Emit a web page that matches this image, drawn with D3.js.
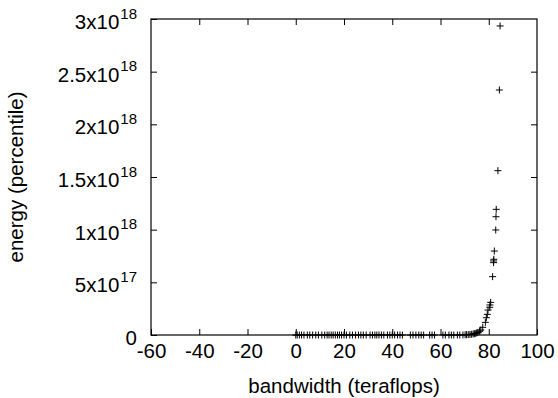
<!DOCTYPE html>
<html>
<head>
<meta charset="utf-8">
<script src="https://cdn.jsdelivr.net/npm/d3@7"></script>
<style>
  body { margin: 0; background: #fff; }
  svg { display: block; }
  svg text { font-family: "Liberation Sans", Arial, Helvetica, sans-serif; }
</style>
</head>
<body>
<script>
// bandwidth (teraflops) / energy (percentile) pairs
const bandwidth = [
  0, 0.6, 1.5, 2.4, 3.4, 4.8, 5.8, 7, 8.3, 9.4, 10.8, 12, 13, 13.8, 14.7, 15.5,
  16.4, 17.3, 18.1, 19, 20, 21, 22.4, 23.5, 24.8, 26, 27, 28, 29.2, 30.8, 31.8,
  32.8, 33.6, 34.5, 35.5, 36.5, 38, 39, 40, 41, 42.2, 43.2, 44.2, 47.5, 48.6,
  49.8, 51, 52, 53, 55.5, 56.5, 57.5, 61, 62, 63.5, 64.5, 65.5, 67, 68, 69.3,
  70.2, 70.8, 71.5, 72.2, 72.8, 73.5, 74, 74.4, 75, 75.5, 76.2, 76.7, 77.5,
  78.6, 79, 79.4, 79.7, 80.4, 80.5, 80.8, 81.6, 82, 82, 82.1, 82.3, 82.9, 83,
  83.1, 83.8, 84.4, 84.7
]
const energy = [
  0, 0, 0, 0, 0, 0, 0, 0, 0, 0, 0, 0, 0, 0, 0, 0,
  0, 0, 0, 0, 0, 0, 0, 0, 0, 0, 0, 0, 0, 0, 0,
  0, 0, 0, 0, 0, 0, 0, 0, 0, 0, 0, 0, 0, 0,
  0, 0, 0, 0, 0, 0, 0, 0, 0, 0, 0, 0, 0, 0, 1e15,
  2e15, 3e15, 4e15, 5e15, 7e15, 1e16, 1.2e16, 1.5e16, 2e16, 2.5e16, 3.5e16, 4.7e16, 7.3e16,
  1.2e17, 1.64e17, 1.96e17, 2.37e17, 2.63e17, 2.85e17, 3.1e17, 5.54e17, 6.87e17, 7.03e17,
  7.19e17, 7.97e17, 9.97e17, 1.123e18,
  1.193e18, 1.56e18, 2.326e18, 2.934e18
]
const xTicks = [-60, -40, -20, 0, 20, 40, 60, 80, 100]
const yTicks = [0, 5e17, 1e18, 1.5e18, 2e18, 2.5e18, 3e18]
const yTickLabels = [
  { base: '0', exp: '' },
  { base: '5x10', exp: '17' },
  { base: '1x10', exp: '18' },
  { base: '1.5x10', exp: '18' },
  { base: '2x10', exp: '18' },
  { base: '2.5x10', exp: '18' },
  { base: '3x10', exp: '18' }
]

const W = 558, H = 398
const margin = { top: 19, right: 21, bottom: 63, left: 151 }
const innerW = W - margin.left - margin.right
const innerH = H - margin.top - margin.bottom
const FONT = '"Liberation Sans", Arial, Helvetica, sans-serif'

const svg = d3.select('body').append('svg')
  .attr('width', W)
  .attr('height', H)

const x = d3.scaleLinear().domain([-60, 100]).range([0, innerW])
const y = d3.scaleLinear().domain([0, 3e18]).range([innerH, 0])

const g = svg.append('g')
  .attr('transform', `translate(${margin.left},${margin.top})`)

const TICK = 6
const FS = 20.5

// inward ticks, mirrored on top/right (gnuplot style)
const bottomAxis = g.append('g')
  .attr('transform', `translate(0,${innerH})`)
  .attr('font-family', FONT)
  .call(d3.axisBottom(x).tickValues(xTicks).tickSizeInner(-TICK).tickSizeOuter(0).tickFormat(d => String(d)))
bottomAxis.select('.domain').remove()
bottomAxis.selectAll('text')
  .attr('y', 23).attr('dy', null)
  .attr('font-size', FS).attr('fill', '#000')
bottomAxis.selectAll('line').attr('stroke', '#000')

const topAxis = g.append('g')
  .call(d3.axisTop(x).tickValues(xTicks.slice(1, -1)).tickSizeInner(-TICK).tickSizeOuter(0).tickFormat(''))
topAxis.select('.domain').remove()

const leftAxis = g.append('g')
  .call(d3.axisLeft(y).tickValues(yTicks).tickSizeInner(-TICK).tickSizeOuter(0).tickFormat(''))
leftAxis.attr('font-family', FONT)
leftAxis.select('.domain').remove()

const rightAxis = g.append('g')
  .attr('transform', `translate(${innerW},0)`)
  .call(d3.axisRight(y).tickValues(yTicks.slice(1, -1)).tickSizeInner(-TICK).tickSizeOuter(0).tickFormat(''))
rightAxis.select('.domain').remove()

// y tick labels with superscript exponents
const yl = leftAxis.selectAll('.tick').append('text')
  .attr('x', -14)
  .attr('dy', 9.5)
  .attr('text-anchor', 'end')
  .attr('fill', '#000')
  .attr('font-size', FS)
yl.each(function (d, i) {
  const lab = yTickLabels[i]
  const t = d3.select(this)
  t.append('tspan').text(lab.base)
  if (lab.exp) {
    t.append('tspan')
      .attr('font-size', 15)
      .attr('dx', 1)
      .attr('dy', -10.5)
      .text(lab.exp)
  }
})

// border
g.append('rect')
  .attr('width', innerW)
  .attr('height', innerH)
  .attr('fill', 'none')
  .attr('stroke', '#000')
  .attr('stroke-width', 1.2)

// points as '+' markers
const pts = d3.zip(bandwidth, energy)
const s = 3.5
g.append('g')
  .selectAll('path')
  .data(pts)
  .join('path')
  .attr('d', d => {
    const px = x(d[0]), py = y(d[1])
    return `M${px - s},${py}H${px + s}M${px},${py - s}V${py + s}`
  })
  .attr('stroke', '#000')
  .attr('stroke-width', 1)
  .attr('fill', 'none')

// axis titles
svg.append('text')
  .attr('x', margin.left + innerW / 2)
  .attr('y', 393)
  .attr('text-anchor', 'middle')
  .attr('font-size', FS)
  .text('bandwidth (teraflops)')

svg.append('text')
  .attr('transform', `translate(23,${margin.top + innerH / 2}) rotate(-90)`)
  .attr('text-anchor', 'middle')
  .attr('font-size', FS)
  .text('energy (percentile)')
</script>
</body>
</html>
